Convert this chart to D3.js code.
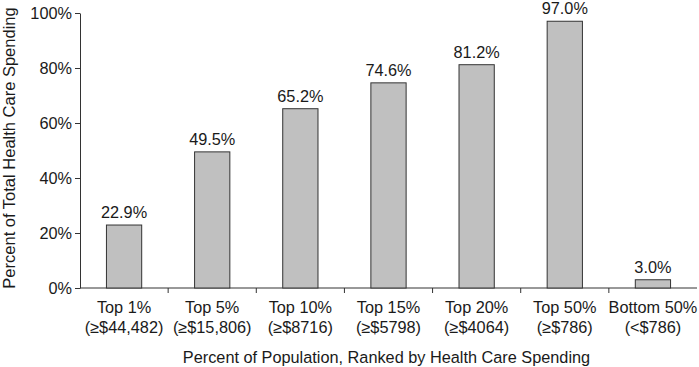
<!DOCTYPE html>
<html>
<head>
<meta charset="utf-8">
<script src="https://cdn.jsdelivr.net/npm/d3@7"></script>
<style>
  body { margin: 0; background: #fff; }
  svg text { font-family: "Liberation Sans", Arial, sans-serif; fill: #1a1a1a; }
</style>
</head>
<body>
<div id="canvas"></div>
<script>
const groups = ['Top 1%', 'Top 5%', 'Top 10%', 'Top 15%', 'Top 20%', 'Top 50%', 'Bottom 50%'];
const thresholds = ['(≥$44,482)', '(≥$15,806)', '(≥$8716)', '(≥$5798)', '(≥$4064)', '(≥$786)', '(<$786)'];
const shares = [22.9, 49.5, 65.2, 74.6, 81.2, 97.0, 3.0];
const yTicks = [0, 20, 40, 60, 80, 100];

const w = 699;
const h = 367;
const margin = { top: 13, right: 2, bottom: 79, left: 80 };
const fs = 16.3;

const svg = d3.select('#canvas')
  .append('svg')
  .attr('width', w)
  .attr('height', h);

const x = d3.scaleBand()
  .domain(groups)
  .range([margin.left, w - margin.right])
  .paddingInner(0.6)
  .paddingOuter(0.3);

const y = d3.scaleLinear()
  .domain([0, 100])
  .range([h - margin.bottom, margin.top]);

// y axis
const yAxis = svg.append('g')
  .attr('transform', 'translate(' + margin.left + ',0)')
  .call(d3.axisLeft(y).tickValues(yTicks).tickFormat(d => d + '%').tickSize(5).tickSizeOuter(0));
yAxis.select('.domain').attr('stroke', '#333');
yAxis.selectAll('.tick line').attr('stroke', '#333');
yAxis.selectAll('.tick text').attr('font-size', fs).attr('x', -8);

// x axis: ticks between categories
const bounds = d3.range(1, groups.length).map(i => margin.left + i * (w - margin.right - margin.left) / groups.length);
const xg = svg.append('g');
xg.append('line')
  .attr('x1', margin.left).attr('x2', w - margin.right)
  .attr('y1', y(0)).attr('y2', y(0))
  .attr('stroke', '#333');
xg.selectAll('.xt')
  .data(bounds)
  .enter()
  .append('line')
  .attr('x1', d => d).attr('x2', d => d)
  .attr('y1', y(0)).attr('y2', y(0) + 5)
  .attr('stroke', '#333');

// bars
svg.append('g')
  .selectAll('rect')
  .data(groups)
  .enter()
  .append('rect')
  .attr('x', d => x(d))
  .attr('y', (d, i) => y(shares[i]))
  .attr('width', x.bandwidth())
  .attr('height', (d, i) => y(0) - y(shares[i]))
  .attr('fill', '#c0c0c0')
  .attr('stroke', '#333')
  .attr('stroke-width', 1);

// value labels
svg.append('g')
  .selectAll('text')
  .data(groups)
  .enter()
  .append('text')
  .attr('x', d => x(d) + x.bandwidth() / 2)
  .attr('y', (d, i) => y(shares[i]) - 7)
  .attr('text-anchor', 'middle')
  .attr('font-size', fs)
  .text((d, i) => shares[i].toFixed(1) + '%');

// category labels
const cl = svg.append('g')
  .selectAll('text')
  .data(groups)
  .enter()
  .append('text')
  .attr('text-anchor', 'middle')
  .attr('font-size', fs);
cl.append('tspan')
  .attr('x', d => x(d) + x.bandwidth() / 2)
  .attr('y', y(0) + 25)
  .text(d => d);
cl.append('tspan')
  .attr('x', d => x(d) + x.bandwidth() / 2)
  .attr('y', y(0) + 45)
  .text((d, i) => thresholds[i]);

// axis titles
svg.append('text')
  .attr('x', (margin.left + w - margin.right) / 2 - 2)
  .attr('y', 363)
  .attr('text-anchor', 'middle')
  .attr('font-size', fs)
  .text('Percent of Population, Ranked by Health Care Spending');

svg.append('text')
  .attr('transform', 'translate(15,148) rotate(-90)')
  .attr('text-anchor', 'middle')
  .attr('font-size', 16.5)
  .text('Percent of Total Health Care Spending');
</script>
</body>
</html>
